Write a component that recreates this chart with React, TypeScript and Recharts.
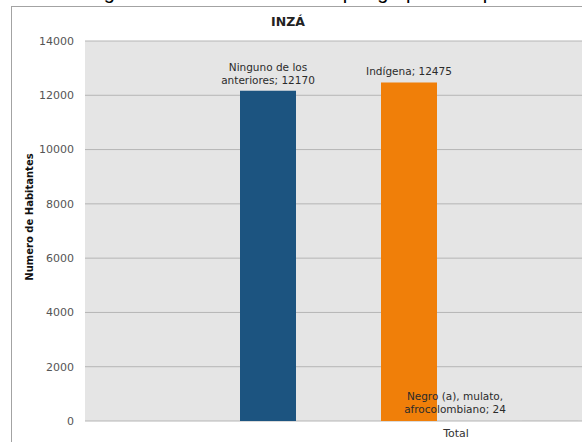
import { BarChart, Bar, XAxis, YAxis, CartesianGrid, LabelList } from "recharts";

const categories = ["Total"];
const ningunoValues = [12170];
const indigenaValues = [12475];
const negroValues = [24];
const yTicks = [0, 2000, 4000, 6000, 8000, 10000, 12000, 14000];

const ningunoLabel = ["Ninguno de los", "anteriores; 12170"];
const indigenaLabel = ["Indígena; 12475"];
const negroLabel = ["Negro (a), mulato,", "afrocolombiano; 24"];

const data = categories.map((name, i) => ({
  name,
  ninguno: ningunoValues[i],
  indigena: indigenaValues[i],
  negro: negroValues[i],
}));

const FONT = "'DejaVu Sans', Verdana, sans-serif";

function makeLabel(lines: string[], dx = 0) {
  return (props: any) => {
    const cx = Number(props.x) + Number(props.width) / 2 + dx;
    const top = Number(props.y);
    return (
      <text
        key={lines.join("-")}
        x={cx}
        y={top}
        textAnchor="middle"
        fontSize={10.5}
        fontFamily={FONT}
        fill="#2b2b2b"
      >
        {lines.map((l, i) => (
          <tspan key={l} x={cx} y={top - 7 - (lines.length - 1 - i) * 13}>
            {l}
          </tspan>
        ))}
      </text>
    );
  };
}

export default function App() {
  return (
    <div
      style={{
        position: "fixed",
        left: 0,
        top: 0,
        width: 582,
        height: 442,
        overflow: "hidden",
        background: "#fff",
      }}
    >
      {/* figure caption, mostly cut off at the top */}
      <div
        style={{
          position: "absolute",
          left: 87,
          top: -19,
          fontFamily: "'Liberation Sans', Arial, sans-serif",
          fontSize: 20,
          whiteSpace: "nowrap",
          color: "#000",
        }}
      >
        Figura 5. Pertenencia étnica por grupo de la población
      </div>
      {/* chart frame */}
      <div
        style={{
          position: "absolute",
          left: 11,
          top: 6,
          width: 620,
          height: 470,
          border: "1px solid #a3a3a3",
          background: "#fff",
        }}
      />
      <div
        style={{
          position: "absolute",
          left: 12,
          top: 14,
          width: 552,
          textAlign: "center",
          fontFamily: FONT,
          fontWeight: "bold",
          fontSize: 12.5,
          color: "#222",
        }}
      >
        INZÁ
      </div>
      <div style={{ position: "absolute", left: 0, top: 0 }}>
        <BarChart
          width={760}
          height={442}
          data={data}
          margin={{ top: 41, right: 27, left: 0, bottom: 0 }}
          barSize={56}
          barGap={85}
        >
          <CartesianGrid
            vertical={false}
            stroke="#b5b5b5"
            fill="#e5e5e5"
            fillOpacity={1}
          />
          <XAxis
            dataKey="name"
            height={21}
            axisLine={false}
            tickLine={false}
            dx={47}
            tick={{ fontSize: 11, fill: "#333", fontFamily: FONT }}
          />
          <YAxis
            width={85}
            domain={[0, 14000]}
            ticks={yTicks}
            interval={0}
            axisLine={false}
            tickLine={false}
            tickMargin={5}
            tick={{ fontSize: 11, fill: "#555", fontFamily: FONT }}
            label={{
              content: (p: any) => {
                const vb = p.viewBox || { x: 0, y: 41, height: 380 };
                const lx = vb.x + 33;
                const ly = vb.y + vb.height / 2 - 14;
                return (
                  <text
                    x={lx}
                    y={ly}
                    transform={`rotate(-90 ${lx} ${ly})`}
                    textAnchor="middle"
                    fontSize={10}
                    fontWeight="bold"
                    fontFamily={FONT}
                    fill="#111"
                  >
                    Numero de Habitantes
                  </text>
                );
              },
            }}
          />
          <Bar dataKey="ninguno" fill="#1c5480" isAnimationActive={false}>
            <LabelList dataKey="ninguno" content={makeLabel(ningunoLabel)} />
          </Bar>
          <Bar dataKey="indigena" fill="#f07f09" isAnimationActive={false}>
            <LabelList dataKey="indigena" content={makeLabel(indigenaLabel)} />
          </Bar>
          <Bar dataKey="negro" fill="#c9c9c9" isAnimationActive={false}>
            <LabelList dataKey="negro" content={makeLabel(negroLabel, -95)} />
          </Bar>
        </BarChart>
      </div>
    </div>
  );
}
